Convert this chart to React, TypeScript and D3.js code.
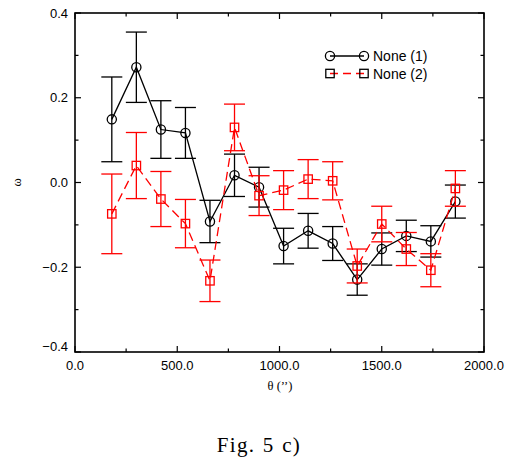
import React from "react";
import * as d3 from "d3";

const thetas = [180, 300, 420, 540, 660, 780, 900, 1020, 1140, 1260, 1380, 1500, 1620, 1740, 1860];
const omega1 = [0.149, 0.272, 0.125, 0.117, -0.092, 0.017, -0.011, -0.150, -0.114, -0.144, -0.229, -0.157, -0.126, -0.139, -0.045];
const err1 = [0.100, 0.083, 0.068, 0.060, 0.050, 0.050, 0.047, 0.042, 0.041, 0.040, 0.037, 0.038, 0.037, 0.037, 0.039];
const omega2 = [-0.074, 0.040, -0.039, -0.097, -0.232, 0.130, -0.031, -0.018, 0.008, 0.004, -0.197, -0.098, -0.157, -0.207, -0.014];
const err2 = [0.094, 0.078, 0.065, 0.057, 0.049, 0.055, 0.047, 0.046, 0.046, 0.045, 0.040, 0.042, 0.039, 0.039, 0.042];
const xTicks = [0, 500, 1000, 1500, 2000];
const xMinor = [250, 750, 1250, 1750];
const yTicks = [-0.4, -0.2, 0.0, 0.2, 0.4];
const yMinor = [-0.3, -0.1, 0.1, 0.3];
const seriesNames = ["None (1)", "None (2)"];

const L = 75, R = 484, T = 13, B = 352;

export default function App() {
  const x = d3.scaleLinear().domain([0, 2000]).range([L, R]);
  const y = d3.scaleLinear().domain([-0.4, 0.4]).range([B, T]);
  const line = d3.line<[number, number]>().x(d => x(d[0])).y(d => y(d[1]));
  const fmtY = (v: number) => (v < 0 ? "\u2212" : "") + Math.abs(v).toFixed(1);
  const sans = "'Liberation Sans', Arial, Helvetica, sans-serif";
  const serif = "'Liberation Serif', 'DejaVu Serif', serif";
  const cap = 10.5;

  const series = [
    { vals: omega1, errs: err1, color: "#000", dash: undefined as string | undefined, marker: "circle" },
    { vals: omega2, errs: err2, color: "#ff0000", dash: "9,5", marker: "square" },
  ];

  const marker = (kind: string, cx: number, cy: number, color: string, key: string) =>
    kind === "circle" ? (
      <circle key={key} cx={cx} cy={cy} r={4.6} fill="none" stroke={color} strokeWidth={1.3} />
    ) : (
      <rect key={key} x={cx - 4.2} y={cy - 4.2} width={8.4} height={8.4} fill="none" stroke={color} strokeWidth={1.3} />
    );

  return (
    <svg width={511} height={461} style={{ position: "absolute", left: 0, top: 0 }}>
      <rect width={511} height={461} fill="#fff" />
      {series.map((s, si) => (
        <g key={si}>
          <path
            d={line(thetas.map((t, i) => [t, s.vals[i]]) as [number, number][]) || ""}
            fill="none"
            stroke={s.color}
            strokeWidth={1.3}
            strokeDasharray={s.dash}
          />
          {thetas.map((t, i) => {
            const cx = x(t);
            const y1 = y(s.vals[i] + s.errs[i]);
            const y2 = y(s.vals[i] - s.errs[i]);
            return (
              <g key={i} stroke={s.color} strokeWidth={1.3}>
                <line x1={cx} x2={cx} y1={y1} y2={y2} />
                <line x1={cx - cap} x2={cx + cap} y1={y1} y2={y1} />
                <line x1={cx - cap} x2={cx + cap} y1={y2} y2={y2} />
              </g>
            );
          })}
          {thetas.map((t, i) => marker(s.marker, x(t), y(s.vals[i]), s.color, "m" + i))}
        </g>
      ))}
      <rect x={L} y={T} width={R - L} height={B - T} fill="none" stroke="#000" strokeWidth={1.6} />
      <g stroke="#000" strokeWidth={1.2}>
        {xTicks.map(v => (
          <g key={"xt" + v}>
            <line x1={x(v)} x2={x(v)} y1={B} y2={B - 6} />
            <line x1={x(v)} x2={x(v)} y1={T} y2={T + 6} />
          </g>
        ))}
        {xMinor.map(v => (
          <g key={"xm" + v}>
            <line x1={x(v)} x2={x(v)} y1={B} y2={B - 3.5} />
            <line x1={x(v)} x2={x(v)} y1={T} y2={T + 3.5} />
          </g>
        ))}
        {yTicks.map(v => (
          <g key={"yt" + v}>
            <line x1={L} x2={L + 6} y1={y(v)} y2={y(v)} />
            <line x1={R} x2={R - 6} y1={y(v)} y2={y(v)} />
          </g>
        ))}
        {yMinor.map(v => (
          <g key={"ym" + v}>
            <line x1={L} x2={L + 3.5} y1={y(v)} y2={y(v)} />
            <line x1={R} x2={R - 3.5} y1={y(v)} y2={y(v)} />
          </g>
        ))}
      </g>
      <g fontFamily={sans} fontSize={13} fill="#000">
        {xTicks.map(v => (
          <text key={"xl" + v} x={x(v)} y={B + 18} textAnchor="middle">
            {v.toFixed(1)}
          </text>
        ))}
        {yTicks.map(v => (
          <text key={"yl" + v} x={L - 7} y={y(v) + (v === -0.4 ? -1 : 4.5)} textAnchor="end">
            {fmtY(v)}
          </text>
        ))}
      </g>
      <text x={280} y={390} textAnchor="middle" fontFamily={serif} fontSize={12.5}>
        {"\u03B8 (\u2019\u2019)"}
      </text>
      <text transform={`translate(21,${y(0)}) rotate(-90)`} textAnchor="middle" fontFamily={serif} fontSize={12.5}>
        {"\u03C9"}
      </text>
      <g fontFamily={sans} fontSize={14}>
        {series.map((s, si) => {
          const ly = 56 + si * 17.5;
          return (
            <g key={"lg" + si}>
              <line x1={330} x2={364} y1={ly} y2={ly} stroke={s.color} strokeWidth={1.3} strokeDasharray={s.dash ? "8,5" : undefined} />
              {marker(s.marker, 330, ly, "#000", "a")}
              {marker(s.marker, 364, ly, "#000", "b")}
              <text x={373} y={ly + 5}>{seriesNames[si]}</text>
            </g>
          );
        })}
      </g>
      <text x={259} y={452} textAnchor="middle" fontFamily={serif} fontSize={21} letterSpacing={1.3} wordSpacing={1}>
        Fig. 5 c)
      </text>
    </svg>
  );
}
